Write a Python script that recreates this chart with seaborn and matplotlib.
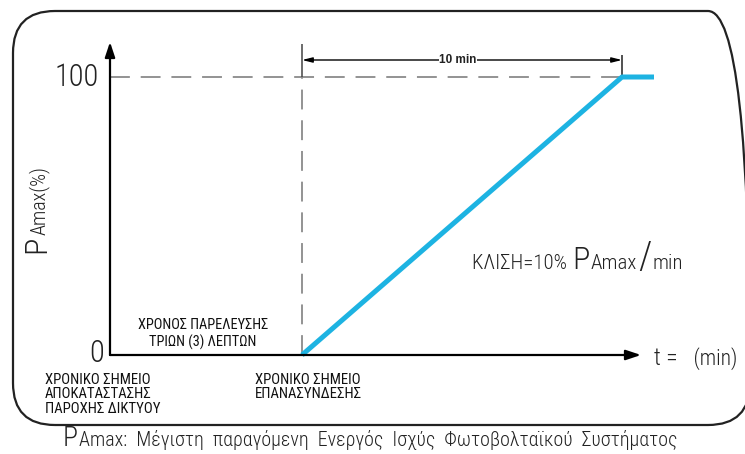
import numpy as np
import pandas as pd
import matplotlib
matplotlib.use("Agg")
import matplotlib.pyplot as plt
import seaborn as sns
from matplotlib.patches import FancyBboxPatch
from matplotlib.transforms import IdentityTransform

# ---- data ----
t_min = [3, 13, 14]          # minutes
p_pct = [0, 100, 100]        # % of PAmax
t_reconnect = 3
t_full = 13
p_full = 100
ramp_label = "10 min"
y_tick_labels = ["0", "100"]
label_restore = ["ΧΡΟΝΙΚΟ ΣΗΜΕΙΟ", "ΑΠΟΚΑΤΑΣΤΑΣΗΣ", "ΠΑΡΟΧΗΣ ΔΙΚΤΥΟΥ"]
label_reconnect = ["ΧΡΟΝΙΚΟ ΣΗΜΕΙΟ", "ΕΠΑΝΑΣΥΝΔΕΣΗΣ"]
label_delay = ["ΧΡΟΝΟΣ ΠΑΡΕΛΕΥΣΗΣ", "ΤΡΙΩΝ (3) ΛΕΠΤΩΝ"]
caption_rest = "Amax:  Μέγιστη  παραγόμενη  Ενεργός  Ισχύς  Φωτοβολταϊκού  Συστήματος"

sns.set_style("white")
COND = ["Roboto Condensed", "DejaVu Sans"]
SANS = ["Liberation Sans", "DejaVu Sans"]
plt.rcParams["font.family"] = COND

W, H = 745, 454
fig = plt.figure(figsize=(W / 100, H / 100), dpi=100)
fig.patch.set_facecolor("white")

# axes: origin at pixel (110, 355); 100% at y=77
ax_left, ax_right, ax_bottom, ax_top = 110, 660, 355, 40
ax = fig.add_axes([ax_left / W, 1 - ax_bottom / H, (ax_right - ax_left) / W, (ax_bottom - ax_top) / H])

# schematic (non-proportional) time axis: first 3 minutes drawn twice as wide
def fwd(x):
    x = np.asarray(x, dtype=float)
    return np.where(x < 3, 2 * x, x + 3)

def inv(y):
    y = np.asarray(y, dtype=float)
    return np.where(y < 6, y / 2, y - 3)

ax.set_xscale("function", functions=(fwd, inv))
px_per_u = 32.0
xmax = float(inv((ax_right - ax_left) / px_per_u))
ymax = (ax_bottom - ax_top) / (ax_bottom - 77) * 100
ax.set_xlim(0, xmax)
ax.set_ylim(0, ymax)
ax.set_axis_off()

def px2x(px):
    return float(inv((px - ax_left) / px_per_u))

def px2y(py):
    return (ax_bottom - py) / (ax_bottom - 77) * 100

blue = "#1db3e2"
grey = "#8a8a8a"

# dashed guide lines
ax.plot([0, t_full], [p_full, p_full], color=grey, lw=1.3, ls=(0, (11, 6)), clip_on=False, zorder=1)
ax.plot([t_reconnect, t_reconnect], [0, p_full], color=grey, lw=1.3, ls=(0, (11, 6)), clip_on=False, zorder=1)
ax.plot([t_reconnect, t_reconnect], [p_full, px2y(44)], color="#444444", lw=1.1, clip_on=False, zorder=1)
ax.plot([t_full, t_full], [p_full, px2y(55)], color="#222222", lw=1.1, clip_on=False, zorder=1)

# ramp
df = pd.DataFrame({"t": t_min, "p": p_pct})
sns.lineplot(data=df, x="t", y="p", ax=ax, color=blue, lw=3.6, zorder=3, legend=False)
for ln in ax.lines:
    ln.set_clip_on(False)
    ln.set_solid_capstyle("butt")

# axis arrows
ax.annotate("", xy=(0, px2y(42)), xytext=(0, 0),
            arrowprops=dict(arrowstyle="-|>,head_length=0.9,head_width=0.3", color="black", lw=1.6,
                            shrinkA=0, shrinkB=0), annotation_clip=False)
ax.annotate("", xy=(px2x(641), 0), xytext=(0, 0),
            arrowprops=dict(arrowstyle="-|>,head_length=0.9,head_width=0.3", color="black", lw=1.6,
                            shrinkA=0, shrinkB=0), annotation_clip=False)

# dimension line (10 min)
dim_y = px2y(60)
ax.annotate("", xy=(t_reconnect, dim_y), xytext=(t_full, dim_y),
            arrowprops=dict(arrowstyle="<|-|>,head_length=0.6,head_width=0.15", color="black", lw=1.0,
                            shrinkA=0, shrinkB=0), annotation_clip=False)
fig.text(458 / W, 1 - 60 / H, ramp_label, ha="center", va="center", fontsize=8.5, weight="bold",
         family=SANS, color="#222222",
         bbox=dict(boxstyle="square,pad=0.05", fc="white", ec="none"))

LIGHT = 300
# tick labels
fig.text(99 / W, 1 - 77 / H, y_tick_labels[1], ha="right", va="center", fontsize=22, weight=LIGHT, color="#222222")
fig.text(97 / W, 1 - 354 / H, y_tick_labels[0], ha="center", va="center", fontsize=22, weight=LIGHT, color="#222222")

renderer = fig.canvas.get_renderer()

def seq(x, y, pieces, rot=0):
    """Place text pieces one after the other along a common baseline (pixels, top-left origin)."""
    for s, size in pieces:
        t = fig.text(x / W, 1 - y / H, s, fontsize=size, weight=LIGHT, ha="left", va="baseline",
                     rotation=rot, rotation_mode="anchor", color="#222222")
        bb = t.get_window_extent(renderer)
        if rot == 0:
            x = bb.x1 + 1
        else:
            y = H - bb.y1 - 1

# y-axis label
seq(45, 253, [("P", 23), ("Amax(%)", 14.5)], rot=90)

# slope label
seq(472, 269, [("ΚΛΙΣΗ=10% ", 15), ("P", 23), ("Amax", 15), ("/", 27), ("min", 15)])

# x-axis label
seq(654, 365, [("t =", 17), ("   (min)", 15.5)])

# annotations below / in the chart
for i, s in enumerate(label_delay):
    fig.text(203 / W, 1 - (325 + 17 * i) / H, s, ha="center", va="center", fontsize=10.4,
             color="#111111")
for i, s in enumerate(label_restore):
    fig.text(45 / W, 1 - (380 + 14.5 * i) / H, s, ha="left", va="center", fontsize=10.6,
             color="#111111")
for i, s in enumerate(label_reconnect):
    fig.text(255 / W, 1 - (380 + 14.5 * i) / H, s, ha="left", va="center", fontsize=10.6,
             color="#111111")

# caption
seq(63, 446, [("P", 20), (caption_rest, 14.4)])

# rounded frame
frame = FancyBboxPatch((13, H - 425), 750 - 13, 425 - 11,
                       boxstyle="round,pad=0,rounding_size=42",
                       transform=IdentityTransform(), fc="none", ec="#222222", lw=1.6, zorder=0)
fig.add_artist(frame)

fig.savefig("out.png", dpi=100)
